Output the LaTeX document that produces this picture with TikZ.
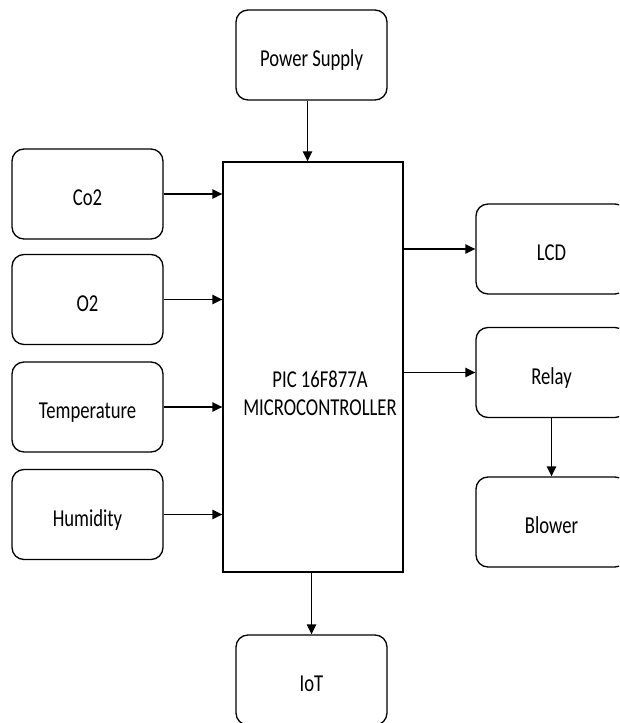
\documentclass[tikz,border=0pt]{standalone}
\usepackage{fontspec}
\setmainfont{Carlito}
\usetikzlibrary{arrows.meta}
\newcommand{\tallt}[1]{\scalebox{1}[1.3]{#1}}
\begin{document}
\begin{tikzpicture}[x=0.75pt,y=-0.75pt,
  blk/.style={draw, line width=1pt, rounded corners=9pt, minimum width=113.25pt, minimum height=67.5pt, inner sep=0pt, text height=18pt, text depth=0.3pt, font=\fontsize{14pt}{16pt}\selectfont},
  mcu/.style={draw, line width=1pt, minimum width=135pt, minimum height=307.5pt, inner sep=0pt},
  lbl/.style={align=center, inner sep=0pt, font=\fontsize{14pt}{17pt}\selectfont},
  arr/.style={line width=1pt, -{Triangle[length=7.5pt,width=7pt]}}]
\useasboundingbox (0,0) rectangle (619,723);
\clip (0,0) rectangle (619,723);
\node[blk] (power) at (311.5,55) {\tallt{Power Supply}};
\node[mcu] (mcu) at (313,367) {};
\node[lbl] (mcutext) at (320,393) {\tallt{PIC 16F877A}\\[4pt]\tallt{MICROCONTROLLER}};
\node[blk] (co2) at (87.5,194) {\tallt{Co2}};
\node[blk] (o2) at (87.5,299.5) {\tallt{O2}};
\node[blk] (temp) at (87.5,407) {\tallt{Temperature}};
\node[blk] (hum) at (87.5,514.5) {\tallt{Humidity}};
\node[blk] (lcd) at (551.5,249) {\tallt{LCD}};
\node[blk] (relay) at (551.5,372.5) {\tallt{Relay}};
\node[blk] (blower) at (551.5,522) {\tallt{Blower}};
\node[blk] (iot) at (311.5,680) {\tallt{IoT}};
\coordinate (pws) at ([xshift=-3pt]power.south);
\draw[arr] (pws) -- (pws |- mcu.north);
\draw[arr] (co2.east) -- (co2.east -| mcu.west);
\draw[arr] (o2.east) -- (o2.east -| mcu.west);
\draw[arr] (temp.east) -- (temp.east -| mcu.west);
\draw[arr] (hum.east) -- (hum.east -| mcu.west);
\draw[arr] (lcd.west -| mcu.east) -- (lcd.west);
\draw[arr] (relay.west -| mcu.east) -- (relay.west);
\draw[arr] (relay.south) -- (blower.north);
\draw[arr] (iot.north |- mcu.south) -- (iot.north);
\end{tikzpicture}
\end{document}
